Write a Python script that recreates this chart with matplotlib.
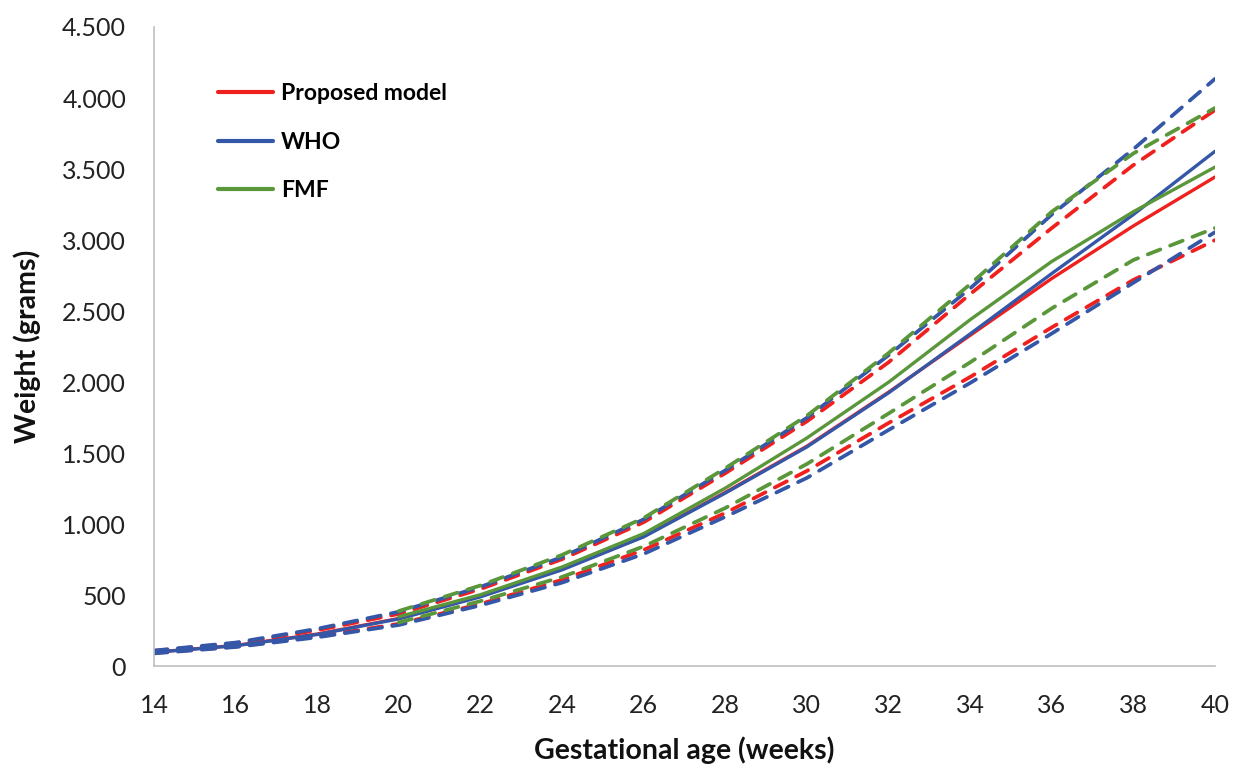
import matplotlib
matplotlib.use("Agg")
import matplotlib.pyplot as plt
from matplotlib.ticker import FuncFormatter

plt.rcParams.update({
    "font.family": ["Lato", "DejaVu Sans"],
    "axes.spines.top": False,
    "axes.spines.right": False,
})

# ── Data ────────────────────────────────────────────────────────────────
weeks = [14, 16, 18, 20, 22, 24, 26, 28, 30, 32, 34, 36, 38, 40]
weeks_fmf = weeks[3:]   # FMF curves start at 20 weeks

proposed_mid = [100, 148, 228, 338, 495, 685, 915, 1225, 1550, 1930, 2330, 2730, 3100, 3444]
proposed_hi = [110, 162, 255, 370, 545, 755, 1015, 1360, 1725, 2140, 2620, 3085, 3528, 3915]
proposed_lo = [95, 140, 210, 300, 440, 610, 820, 1080, 1376, 1713, 2037, 2386, 2720, 3000]

who_mid = [100, 146, 225, 335, 490, 680, 912, 1220, 1545, 1925, 2340, 2765, 3180, 3625]
who_hi = [112, 168, 265, 385, 560, 770, 1035, 1380, 1750, 2190, 2660, 3180, 3640, 4135]
who_lo = [92, 137, 205, 292, 430, 590, 792, 1053, 1327, 1664, 1995, 2343, 2700, 3056]

fmf_mid = [350, 505, 700, 935, 1255, 1608, 2000, 2440, 2850, 3200, 3514]
fmf_hi = [390, 570, 785, 1045, 1395, 1765, 2205, 2690, 3200, 3610, 3930]
fmf_lo = [310, 460, 630, 845, 1115, 1425, 1780, 2140, 2520, 2860, 3085]

RED = "#F0201E"
BLUE = "#3557A8"
GREEN = "#5A963A"

DASH = (0, (3.6, 2.8))
LW_SOLID = 2.4
LW_DASH = 2.7

series = [
    ("Proposed model", weeks, proposed_mid, proposed_hi, proposed_lo, RED),
    ("WHO", weeks, who_mid, who_hi, who_lo, BLUE),
    ("FMF", weeks_fmf, fmf_mid, fmf_hi, fmf_lo, GREEN),
]

fig = plt.figure(figsize=(12.33, 7.68), dpi=100)
ax = fig.add_axes([0.1249, 0.1322, 0.8605, 0.8327])

for label, x, mid, hi, lo, color in series:
    for band in (hi, lo):
        ax.plot(x, band, color=color, linestyle=DASH, linewidth=LW_DASH,
                dash_capstyle="round", solid_capstyle="round")
    ax.plot(x, mid, color=color, linewidth=LW_SOLID, label=label,
            solid_capstyle="round")

ax.set_xlim(14, 40)
ax.set_ylim(0, 4500)
ax.set_xticks(range(14, 41, 2))
ax.set_yticks(range(0, 4501, 500))
ax.yaxis.set_major_formatter(FuncFormatter(lambda v, _: f"{int(v):,}".replace(",", ".")))

ax.tick_params(length=0, labelsize=18, colors="#222222", pad=20)
for side in ("left", "bottom"):
    ax.spines[side].set_color("#BFBFBF")
    ax.spines[side].set_linewidth(1.2)

ax.set_xlabel("Gestational age (weeks)", fontsize=20.5, fontweight="bold",
              labelpad=14, color="#111111")
ax.set_ylabel("Weight (grams)", fontsize=20.5, fontweight="bold",
              labelpad=15, color="#111111")

leg = ax.legend(loc="upper left", bbox_to_anchor=(0.06, 0.912), frameon=False,
                prop={"size": 16.5, "weight": "bold"}, handlelength=2.4,
                handletextpad=0.35, labelspacing=1.2, borderpad=0,
                borderaxespad=0)
for h in leg.get_lines():
    h.set_linewidth(3)

fig.savefig("out.png", dpi=100)
